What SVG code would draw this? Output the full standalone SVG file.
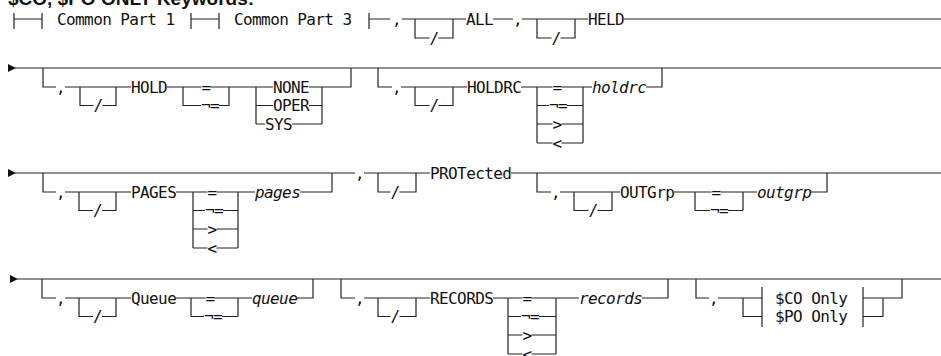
<svg xmlns="http://www.w3.org/2000/svg" width="941" height="356" viewBox="0 0 941 356">
<style>
.ln{stroke:#222;stroke-width:1.2;fill:none}
.t{font-family:"DejaVu Sans Mono","Liberation Mono",monospace;font-size:16px;letter-spacing:-0.6px;fill:#111}
.i{font-style:italic}
.ttl{font-family:"Liberation Sans",Arial,sans-serif;font-weight:bold;font-size:19px;fill:#111}
.ar{fill:#111}
</style>
<rect width="941" height="356" fill="#fff"/>
<text class="ttl" x="8" y="5">$CO, $PO ONLY Keywords:</text>
<g id="connectors">
<!-- row 1 -->
<path class="ln" d="M14 13V29M14 19H42M42 13V29M191 13V29M191 19H219M219 13V29M369 13V29M369 19H390M402 19H466M415 19V38H429.5M438.5 38H453V19M493 19H513M522 19H588M537 19V38H551.5M560.5 38H575V19M624 19H941"/>
<!-- row 2 -->
<polygon class="ar" points="8,64 16,68 8,72"/>
<path class="ln" d="M15 68H941M43 68V87H56M65 87H131M80 87V105.5H93.5M102.5 105.5H116V87M167 87H201.5M210.5 87H273M183 87V105.5H201M219 105.5H229V87M256 87V124M256 105.5H273M256 124H265M309 87H351V68M309 105.5H322M292 124H322M322 87V124"/>
<path class="ln" d="M378 68V87H392M401 87H467M415 87V105.5H429.5M438.5 105.5H453V87M521 87H552.5M561.5 87H592M537 87V143M583 87V143M537 105.5H549M567 105.5H583M537 124H552.5M561.5 124H583M537 143H552.5M561.5 143H583M646 87H662V68"/>
<!-- row 3 -->
<polygon class="ar" points="8,169 16,173 8,177"/>
<path class="ln" d="M15 173H355M364 173H430M511 173H941M43 173V192H56M65 192H131M79 192V210.5H93M102 210.5H116V192M176 192H207.5M216.5 192H255M193 192V248M238 192V248M193 210.5H205M223 210.5H238M193 229H207.5M216.5 229H238M193 248H207.5M216.5 248H238M300 192H332V173M378 173V192H390.5M399.5 192H416V173"/>
<path class="ln" d="M537 173V192H551M560 192H620M574 192V210.5H588.5M597.5 210.5H612V192M674 192H711.5M720.5 192H757M695 192V210.5M743 192V210.5M695 210.5H710M728 210.5H743M811 192H827V173"/>
<!-- row 4 -->
<polygon class="ar" points="10,275 18,279 10,283"/>
<path class="ln" d="M17 279H941M42 279V298H56M65 298H131M79 298V316.5H93M102 316.5H116V298M176 298H205.5M214.5 298H252M191 298V316.5M238 298V316.5M191 316.5H204M222 316.5H238M297 298H313V279"/>
<path class="ln" d="M341 279V298H355M364 298H430M378 298V316.5H390.5M399.5 316.5H416V298M493 298H522.5M531.5 298H579M508 298V354M556 298V354M508 316.5H521M539 316.5H556M508 335H522.5M531.5 335H556M508 354H522.5M531.5 354H556M642 298H668V279"/>
<path class="ln" d="M696 279V298H709M718 298H762M743 298V316.5H762M762 287V327M863 287V327M863 298H902V279M863 316.5H883V298"/>
</g>
<!-- row 1 nodes -->
<g id="common-part-1"><text class="t" x="57" y="24.8">Common Part 1</text></g>
<g id="common-part-3"><text class="t" x="234" y="24.8">Common Part 3</text></g>
<g id="all"><text class="t" x="392" y="24.8">,</text><text class="t" x="429.5" y="43.8">/</text><text class="t" x="466" y="24.8">ALL</text></g>
<g id="held"><text class="t" x="513" y="24.8">,</text><text class="t" x="551.5" y="43.8">/</text><text class="t" x="588" y="24.8">HELD</text></g>
<!-- row 2 nodes -->
<g id="hold"><text class="t" x="56" y="92.8">,</text><text class="t" x="93.5" y="111.3">/</text><text class="t" x="131" y="92.8">HOLD</text><text class="t" x="201.5" y="92.8">=</text><text class="t" x="201" y="111.3">¬=</text><text class="t" x="273" y="92.8">NONE</text><text class="t" x="273" y="111.3">OPER</text><text class="t" x="265" y="129.8">SYS</text></g>
<g id="holdrc"><text class="t" x="392" y="92.8">,</text><text class="t" x="429.5" y="111.3">/</text><text class="t" x="467" y="92.8">HOLDRC</text><text class="t" x="552.5" y="92.8">=</text><text class="t" x="549" y="111.3">¬=</text><text class="t" x="552.5" y="129.8">&gt;</text><text class="t" x="552.5" y="148.8">&lt;</text><text class="t i" x="592" y="92.8">holdrc</text></g>
<!-- row 3 nodes -->
<g id="pages"><text class="t" x="56" y="197.8">,</text><text class="t" x="93" y="216.3">/</text><text class="t" x="131" y="197.8">PAGES</text><text class="t" x="207.5" y="197.8">=</text><text class="t" x="205" y="216.3">¬=</text><text class="t" x="207.5" y="234.8">&gt;</text><text class="t" x="207.5" y="253.8">&lt;</text><text class="t i" x="255" y="197.8">pages</text></g>
<g id="protected"><text class="t" x="355" y="178.8">,</text><text class="t" x="390.5" y="197.8">/</text><text class="t" x="430" y="178.8">PROTected</text></g>
<g id="outgrp"><text class="t" x="551" y="197.8">,</text><text class="t" x="588.5" y="216.3">/</text><text class="t" x="620" y="197.8">OUTGrp</text><text class="t" x="711.5" y="197.8">=</text><text class="t" x="710" y="216.3">¬=</text><text class="t i" x="757" y="197.8">outgrp</text></g>
<!-- row 4 nodes -->
<g id="queue"><text class="t" x="56" y="303.8">,</text><text class="t" x="93" y="322.3">/</text><text class="t" x="131" y="303.8">Queue</text><text class="t" x="205.5" y="303.8">=</text><text class="t" x="204" y="322.3">¬=</text><text class="t i" x="252" y="303.8">queue</text></g>
<g id="records"><text class="t" x="355" y="303.8">,</text><text class="t" x="390.5" y="322.3">/</text><text class="t" x="430" y="303.8">RECORDS</text><text class="t" x="522.5" y="303.8">=</text><text class="t" x="521" y="322.3">¬=</text><text class="t" x="522.5" y="340.8">&gt;</text><text class="t" x="522.5" y="359.8">&lt;</text><text class="t i" x="579" y="303.8">records</text></g>
<g id="co-po-only"><text class="t" x="709" y="303.8">,</text><text class="t" x="775" y="303.8">$CO Only</text><text class="t" x="775" y="322.3">$PO Only</text></g>
</svg>
